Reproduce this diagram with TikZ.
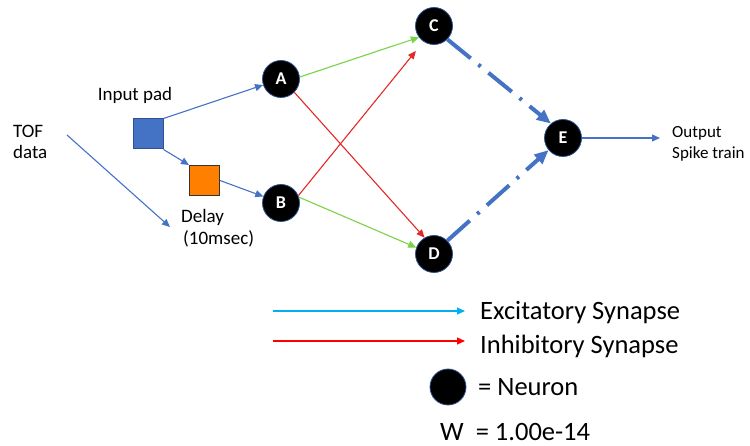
\documentclass[tikz,border=0pt]{standalone}
\usepackage{fontspec}
\setmainfont{Carlito}
\usetikzlibrary{arrows.meta}
\definecolor{synblue}{RGB}{68,114,196}
\definecolor{padedge}{RGB}{47,82,143}
\definecolor{synred}{RGB}{228,40,40}
\definecolor{syngreen}{RGB}{120,212,70}
\definecolor{padorange}{RGB}{255,127,0}
\definecolor{excblue}{RGB}{0,176,240}
\tikzset{
  neuron/.style={circle, fill=black, draw=padedge, line width=0.8pt, minimum size=37pt, inner sep=0pt,
    text=white, font=\fontsize{18}{18}\selectfont\bfseries},
  pad/.style={rectangle, minimum size=30pt, inner sep=0pt, line width=1pt},
  lbl/.style={font=\fontsize{19}{22}\selectfont, inner sep=0pt},
  outlbl/.style={font=\fontsize{17}{20}\selectfont, inner sep=0pt, anchor=west},
  legendtext/.style={font=\fontsize{26.5}{28}\selectfont, inner sep=0pt, anchor=west},
  tip/.style={-{Triangle[length=8pt,width=7pt]}},
  thinsyn/.style={tip, line width=1.1pt},
  bigsyn/.style={-{Triangle[length=14pt,width=12pt]}, synblue, line width=4pt,
    dash pattern=on 30pt off 10pt on 3pt off 10pt},
}
\begin{document}
\begin{tikzpicture}[x=1pt, y=-1pt]
\useasboundingbox (0,0) rectangle (750,446);

% neurons
\node[neuron] (A) at (281,79) {A};
\node[neuron] (B) at (281,203) {B};
\node[neuron] (C) at (434,26) {C};
\node[neuron] (D) at (434,254) {D};
\node[neuron] (E) at (563,138) {E};

% input pad and delay
\node[pad, fill=synblue, draw=padedge] (inpad) at (148,134) {};
\node[pad, fill=padorange, draw=black!80] (delay) at (204.5,180.5) {};

% labels
\node[lbl] (padlbl) at (135,95) {Input pad};
\node[lbl, anchor=west] (tof1) at (13,131) {TOF};
\node[lbl, anchor=west] (tof2) at (13,152) {data};
\node[lbl, anchor=west] (dl1) at (181,217) {Delay};
\node[lbl, anchor=west] (dl2) at (183,239) {(10msec)};
\node[outlbl] (out1) at (672,133) {Output};
\node[outlbl] (out2) at (672,154) {Spike train};

% free ends
\coordinate (tofA) at (67,135);
\coordinate (tofB) at (170,227);
\coordinate (outE) at (660,138);

% input wiring
\draw[thinsyn, synblue] (tofA) -- (tofB);
\draw[thinsyn, synblue] (inpad.north east) -- (A);
\draw[thinsyn, synblue] (inpad.south east) -- (delay.north west);
\draw[thinsyn, synblue] (delay.east) -- (B);

% hidden layer synapses
\draw[thinsyn, syngreen] (A.6) -- (C.217);
\draw[thinsyn, synred] (A.315) -- (D.120);
\draw[thinsyn, synred, shorten >=12pt] (B.23) -- (C.236);
\draw[thinsyn, syngreen] (B.18) -- (D.160);

% output layer
\draw[bigsyn] (C.315) -- (E.130);
\draw[bigsyn] (D.45) -- (E.220);
\draw[thinsyn, synblue] (E.east) -- (outE);

% legend
\coordinate (exA) at (273,311);
\coordinate (exB) at (465,311);
\coordinate (inA) at (273,341);
\coordinate (inB) at (465,341);
\draw[thinsyn, excblue] (exA) -- (exB);
\draw[thinsyn, red] (inA) -- (inB);
\node[legendtext] (extext) at (480,313) {Excitatory Synapse};
\node[legendtext] (intext) at (480,346) {Inhibitory Synapse};
\node[neuron, minimum size=36pt] (legneuron) at (448,387) {};
\node[legendtext] (neutext) at (478,387) {= Neuron};
\node[legendtext] (wtext) at (440,432) {W\ \ = 1.00e-14};
\end{tikzpicture}
\end{document}
